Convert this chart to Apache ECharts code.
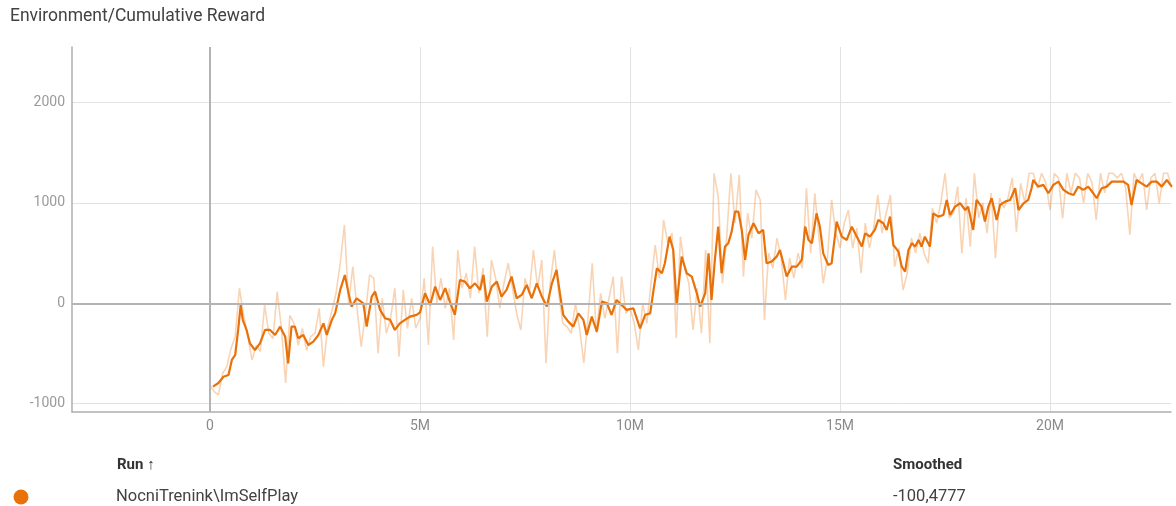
<!DOCTYPE html>
<html>
<head>
<meta charset="utf-8">
<script src="https://cdn.jsdelivr.net/npm/echarts@6/dist/echarts.min.js"></script>
<style>
html, body { margin: 0; padding: 0; background: #fff; }
#chart { width: 1176px; height: 506px; }
</style>
</head>
<body>
<div id="chart"></div>
<script>
// ticks (steps in millions)
var xTicks = [0, 5, 10, 15, 20];
var yTicks = [-1000, 0, 1000, 2000];

// smoothed curve
var smoothSteps = [
    0.07, 0.2, 0.32, 0.44, 0.52, 0.6, 0.67, 0.73, 0.78, 0.87, 0.95,
    1.07, 1.19, 1.31, 1.43, 1.55, 1.67, 1.79, 1.86, 1.94,
    2.02, 2.1, 2.22, 2.34, 2.46, 2.58, 2.7, 2.78, 2.9, 2.98,
    3.1, 3.21, 3.29, 3.37, 3.49, 3.65, 3.73, 3.85, 3.93,
    4.05, 4.17, 4.29, 4.4, 4.52, 4.64, 4.76, 4.92,
    5.0, 5.12, 5.24, 5.36, 5.48, 5.6, 5.71, 5.83, 5.95,
    6.07, 6.19, 6.31, 6.43, 6.51, 6.59, 6.71, 6.83, 6.94,
    7.06, 7.18, 7.3, 7.42, 7.54, 7.66, 7.78, 7.9,
    8.02, 8.14, 8.25, 8.33, 8.41, 8.53, 8.65, 8.77, 8.89, 8.97,
    9.09, 9.21, 9.33, 9.45, 9.56, 9.68, 9.8, 9.92,
    10.08, 10.24, 10.36, 10.48, 10.56, 10.64, 10.76, 10.83, 10.94,
    11.03, 11.11, 11.23, 11.35, 11.47, 11.59, 11.67, 11.79, 11.87, 11.94,
    12.02, 12.1, 12.18, 12.26, 12.34, 12.42, 12.5, 12.58, 12.66, 12.74, 12.82, 12.94,
    13.06, 13.17, 13.25, 13.37, 13.49, 13.57, 13.65, 13.73, 13.85, 13.97,
    14.09, 14.17, 14.25, 14.33, 14.44, 14.52, 14.6, 14.72, 14.8, 14.92,
    15.04, 15.16, 15.28, 15.4, 15.52, 15.6, 15.71, 15.83, 15.91,
    16.03, 16.11, 16.19, 16.27, 16.39, 16.47, 16.55, 16.63, 16.71, 16.79, 16.87, 16.94,
    17.02, 17.14, 17.22, 17.34, 17.46, 17.54, 17.62, 17.74, 17.86, 17.98,
    18.05, 18.17, 18.25, 18.37, 18.45, 18.53, 18.61, 18.73, 18.81, 18.93,
    19.05, 19.17, 19.25, 19.37, 19.48, 19.56, 19.6, 19.72, 19.84, 19.96,
    20.08, 20.2, 20.32, 20.44, 20.56, 20.67, 20.79, 20.91,
    21.03, 21.11, 21.23, 21.35, 21.47, 21.59, 21.75, 21.86, 21.94,
    22.06, 22.18, 22.3, 22.42, 22.54, 22.66, 22.78, 22.9
];
var smoothValues = [
    -831, -795, -732, -715, -565, -515, -266, -17, -166, -266, -399,
    -466, -399, -266, -266, -316, -233, -333, -599, -233,
    -233, -349, -316, -416, -383, -316, -200, -316, -166, -100,
    133, 282, 116, -33, 50, 0, -233, 67, 116,
    -66, -150, -166, -266, -200, -166, -133, -116,
    -90, 100, -17, 166, 33, 150, 17, -116, 232,
    216, 150, 199, 133, 282, 17, 166, 216, 67,
    133, 266, 50, 83, 183, 50, 199, 67,
    -33, 199, 332, 100, -116, -183, -233, -100, -166, -316,
    -133, -283, 17, 0, -116, 33, -17, -66,
    -50, -250, -116, -100, 133, 349, 299, 399, 664,
    531, -17, 465, 299, 266, 100, -33, 100, 498, 33,
    432, 764, 299, 565, 598, 714, 913, 913, 731, 432, 681, 798,
    698, 731, 399, 415, 465, 531, 399, 266, 365, 365,
    432, 764, 631, 598, 897, 764, 498, 382, 399, 814,
    664, 631, 764, 664, 565, 698, 664, 731, 830,
    798, 731, 864, 581, 515, 365, 315, 531, 598, 565, 631, 565,
    664, 565, 897, 864, 880, 1030, 880, 963, 997, 930,
    963, 731, 1030, 963, 814, 963, 1047, 830, 980, 1013,
    1030, 1147, 930, 997, 1030, 1147, 1229, 1163, 1180, 1097,
    1180, 1213, 1130, 1097, 1080, 1163, 1130, 1163,
    1097, 1047, 1147, 1163, 1213, 1213, 1213, 1180, 980,
    1229, 1196, 1163, 1213, 1213, 1163, 1229, 1163
];

// raw (unsmoothed) values, one every 0.1M steps starting at 0
var rawStepSize = 0.1;
var rawValues = [
    -820, -880, -914, -700, -632, -450, -333, 150, -120, -330,
    -565, -420, -480, -17, -300, -350, 116, -250, -795, -120,
    -200, -420, -250, -470, -330, -300, -50, -632, -240, -80,
    100, 399, 781, 0, 365, -50, -432, -100, 282, 250,
    -499, 50, -300, -150, 150, -532, 133, -250, 50, -249,
    -150, 250, -416, 565, 0, 250, -50, 150, -366, 531,
    150, 300, 50, 565, 100, 350, -333, 432, 250, -50,
    200, 399, 150, -100, -266, 250, 100, 531, 150, 432,
    -598, 200, 531, 100, -200, -233, -300, 0, -250, -598,
    -150, 399, -299, 100, -150, 50, 266, -499, 266, -100,
    -50, -200, -466, 0, -200, 200, 581, 250, 830, 600,
    700, -349, 664, 350, 200, -266, 150, -299, 531, -399,
    1296, 1063, 200, 650, 1296, 800, 1280, 266, 900, 650,
    1130, 1030, -166, 500, 350, 650, 450, 33, 450, 250,
    500, 350, 1147, 500, 1097, 650, 199, 450, 1030, 700,
    550, 800, 930, 550, 750, 299, 800, 550, 750, 1080,
    700, 900, 1080, 365, 550, 133, 299, 650, 500, 700,
    500, 399, 950, 800, 1000, 1296, 850, 900, 1163, 498,
    1050, 565, 1296, 850, 1000, 700, 1100, 449, 1050, 950,
    1050, 1250, 714, 1196, 1000, 1296, 1296, 1150, 1296, 1200,
    930, 1296, 1250, 847, 1296, 1100, 1296, 1250, 1000, 1296,
    1200, 830, 1296, 1100, 1296, 1296, 1250, 1296, 1150, 681,
    1296, 1200, 1296, 930, 1250, 1296, 997, 1296, 1296, 1150
];

var runName = 'NocniTrenink\\ImSelfPlay';
var smoothedLast = '-100,4777';
var runColor = '#e8710a';

var smoothData = smoothSteps.map(function (s, i) { return [s, smoothValues[i]]; });
var rawData = rawValues.map(function (v, i) { return [+(i * rawStepSize).toFixed(1), v]; });

var chart = echarts.init(document.getElementById('chart'));

var option = {
    animation: false,
    grid: { left: 72, right: 5, top: 47, bottom: 94 },
    xAxis: {
        type: 'value',
        min: -3.286,
        max: 22.88,
        axisLine: { show: true, onZero: false, lineStyle: { color: '#aeaeae', width: 1.5 } },
        axisTick: { show: false, customValues: xTicks },
        axisLabel: {
            customValues: xTicks,
            color: '#8a8a8a',
            fontSize: 14,
            fontFamily: 'Roboto',
            margin: 7,
            formatter: function (v) { return v === 0 ? '0' : v + 'M'; }
        },
        splitLine: { show: true, lineStyle: { color: '#e2e2e2', width: 1 } }
    },
    yAxis: {
        type: 'value',
        min: -1084,
        max: 2555,
        axisLine: { show: true, onZero: false, lineStyle: { color: '#aeaeae', width: 1.5 } },
        axisTick: { show: false, customValues: yTicks },
        axisLabel: {
            customValues: yTicks,
            color: '#9a9a9a',
            fontSize: 14,
            fontFamily: 'Roboto',
            margin: 7,
            formatter: function (v) { return String(v); }
        },
        splitLine: { show: true, lineStyle: { color: '#e2e2e2', width: 1 } }
    },
    graphic: [
        {
            type: 'text', x: 10, y: 17,
            style: { text: 'Environment/Cumulative Reward', fill: '#424242', font: '17.5px Roboto', verticalAlign: 'middle' }
        },
        {
            type: 'text', x: 117, y: 465,
            style: { text: 'Run \u2191', fill: '#333', font: 'bold 15px Roboto', verticalAlign: 'middle' }
        },
        {
            type: 'text', x: 893, y: 465,
            style: { text: 'Smoothed', fill: '#333', font: 'bold 15px Roboto', verticalAlign: 'middle' }
        },
        {
            type: 'circle', shape: { cx: 21, cy: 497, r: 7.5 },
            style: { fill: runColor }
        },
        {
            type: 'text', x: 116, y: 497,
            style: { text: runName, fill: '#424242', font: '16.5px Roboto', verticalAlign: 'middle' }
        },
        {
            type: 'text', x: 893, y: 497,
            style: { text: smoothedLast, fill: '#424242', font: '16.5px Roboto', verticalAlign: 'middle' }
        }
    ],
    series: [
        {
            name: 'zero',
            type: 'line',
            data: [],
            z: 1,
            silent: true,
            markLine: {
                silent: true,
                symbol: 'none',
                label: { show: false },
                lineStyle: { color: '#b4b4b4', width: 2, type: 'solid' },
                data: [{ xAxis: 0 }, { yAxis: 0 }]
            }
        },
        {
            name: 'raw',
            type: 'line',
            data: rawData,
            z: 2,
            showSymbol: false,
            lineStyle: { color: runColor, width: 1.6, opacity: 0.3 },
            itemStyle: { color: runColor }
        },
        {
            name: 'smoothed',
            type: 'line',
            data: smoothData,
            z: 3,
            showSymbol: false,
            lineStyle: { color: runColor, width: 2.2 },
            itemStyle: { color: runColor }
        }
    ]
};

chart.setOption(option);
</script>
</body>
</html>
